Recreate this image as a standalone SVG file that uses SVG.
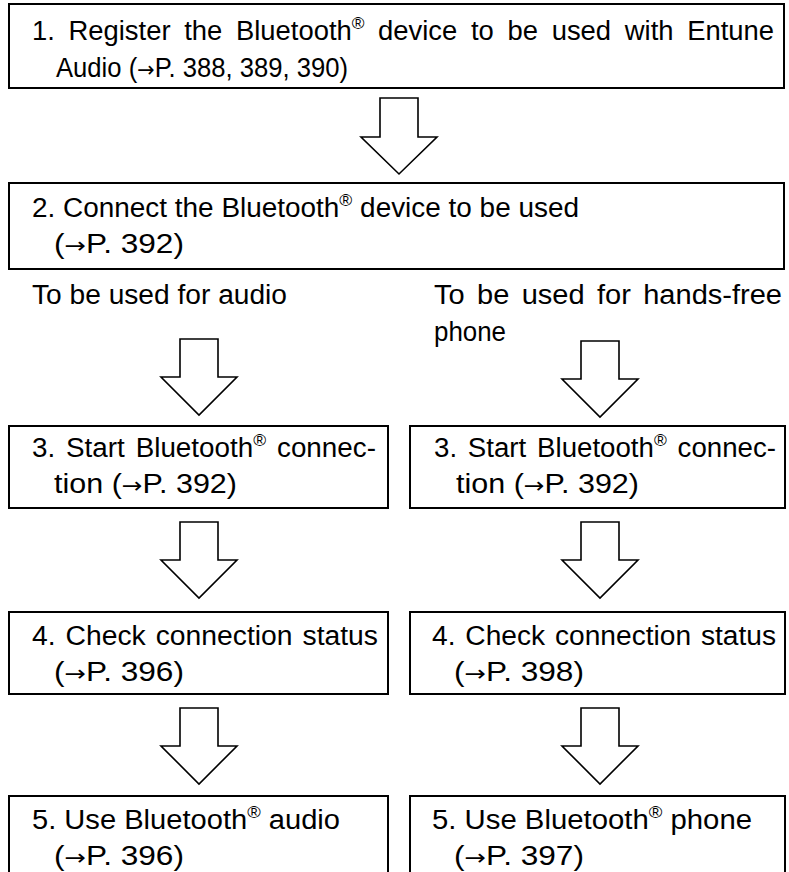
<svg xmlns="http://www.w3.org/2000/svg" width="789" height="872" viewBox="0 0 789 872">
<style>
.box{fill:#fff;stroke:#000;stroke-width:2}
.arr{fill:#fff;stroke:#000;stroke-width:1.6;stroke-linejoin:miter}
text{font-family:"Liberation Sans",Arial,sans-serif;font-size:27px;fill:#000}
.sup{font-size:17px}
.ar{font-family:"DejaVu Sans",sans-serif;font-size:22px}
</style>
<rect width="789" height="872" fill="#fff"/>
<g id="connectors">
<polygon class="arr" points="380,98 418,98 418,137 437,137 399,174 361,137 380,137"/>
<polygon class="arr" points="180,339 218,339 218,377 237,377 199,415 161,377 180,377"/>
<polygon class="arr" points="581,341 619,341 619,379 638,379 600,417 562,379 581,379"/>
<polygon class="arr" points="180,522 218,522 218,560 237,560 199,598 161,560 180,560"/>
<polygon class="arr" points="581,522 619,522 619,560 638,560 600,598 562,560 581,560"/>
<polygon class="arr" points="180,708 218,708 218,746 237,746 199,784 161,746 180,746"/>
<polygon class="arr" points="581,708 619,708 619,746 638,746 600,784 562,746 581,746"/>
</g>
<g id="step1">
<rect class="box" x="9" y="4" width="775" height="84"/>
<text x="32" y="40" word-spacing="6" textLength="742" lengthAdjust="spacingAndGlyphs">1. Register the Bluetooth<tspan class="sup" dy="-11">®</tspan><tspan dy="11"> device to be used with Entune</tspan></text>
<text x="56" y="77" textLength="292" lengthAdjust="spacingAndGlyphs">Audio (<tspan class="ar">→</tspan>P. 388, 389, 390)</text>
</g>
<g id="step2">
<rect class="box" x="9" y="183" width="775" height="86"/>
<text x="32" y="217" textLength="547" lengthAdjust="spacingAndGlyphs">2. Connect the Bluetooth<tspan class="sup" dy="-11">®</tspan><tspan dy="11"> device to be used</tspan></text>
<text x="54" y="253" textLength="130" lengthAdjust="spacingAndGlyphs">(<tspan class="ar">→</tspan>P. 392)</text>
</g>
<g id="label-audio">
<text x="32" y="304" textLength="255" lengthAdjust="spacingAndGlyphs">To be used for audio</text>
</g>
<g id="label-phone">
<text x="434" y="304" word-spacing="4" textLength="348" lengthAdjust="spacingAndGlyphs">To be used for hands-free</text>
<text x="434" y="341" textLength="72" lengthAdjust="spacingAndGlyphs">phone</text>
</g>
<g id="step3-audio">
<rect class="box" x="9" y="426" width="379" height="82"/>
<text x="32" y="457" word-spacing="3" textLength="344" lengthAdjust="spacingAndGlyphs">3. Start Bluetooth<tspan class="sup" dy="-11">®</tspan><tspan dy="11"> connec-</tspan></text>
<text x="54" y="493" textLength="183" lengthAdjust="spacingAndGlyphs">tion (<tspan class="ar">→</tspan>P. 392)</text>
</g>
<g id="step3-phone">
<rect class="box" x="410" y="426" width="375" height="82"/>
<text x="434" y="457" word-spacing="3" textLength="342" lengthAdjust="spacingAndGlyphs">3. Start Bluetooth<tspan class="sup" dy="-11">®</tspan><tspan dy="11"> connec-</tspan></text>
<text x="456" y="493" textLength="183" lengthAdjust="spacingAndGlyphs">tion (<tspan class="ar">→</tspan>P. 392)</text>
</g>
<g id="step4-audio">
<rect class="box" x="9" y="612" width="379" height="82"/>
<text x="32" y="645" word-spacing="2" textLength="346" lengthAdjust="spacingAndGlyphs">4. Check connection status</text>
<text x="54" y="681" textLength="130" lengthAdjust="spacingAndGlyphs">(<tspan class="ar">→</tspan>P. 396)</text>
</g>
<g id="step4-phone">
<rect class="box" x="410" y="612" width="375" height="82"/>
<text x="432" y="645" word-spacing="2" textLength="344" lengthAdjust="spacingAndGlyphs">4. Check connection status</text>
<text x="454" y="681" textLength="130" lengthAdjust="spacingAndGlyphs">(<tspan class="ar">→</tspan>P. 398)</text>
</g>
<g id="step5-audio">
<rect class="box" x="9" y="796" width="379" height="100"/>
<text x="32" y="829" textLength="308" lengthAdjust="spacingAndGlyphs">5. Use Bluetooth<tspan class="sup" dy="-11">®</tspan><tspan dy="11"> audio</tspan></text>
<text x="54" y="865" textLength="130" lengthAdjust="spacingAndGlyphs">(<tspan class="ar">→</tspan>P. 396)</text>
</g>
<g id="step5-phone">
<rect class="box" x="410" y="796" width="375" height="100"/>
<text x="432" y="829" textLength="320" lengthAdjust="spacingAndGlyphs">5. Use Bluetooth<tspan class="sup" dy="-11">®</tspan><tspan dy="11"> phone</tspan></text>
<text x="454" y="865" textLength="130" lengthAdjust="spacingAndGlyphs">(<tspan class="ar">→</tspan>P. 397)</text>
</g>
</svg>
